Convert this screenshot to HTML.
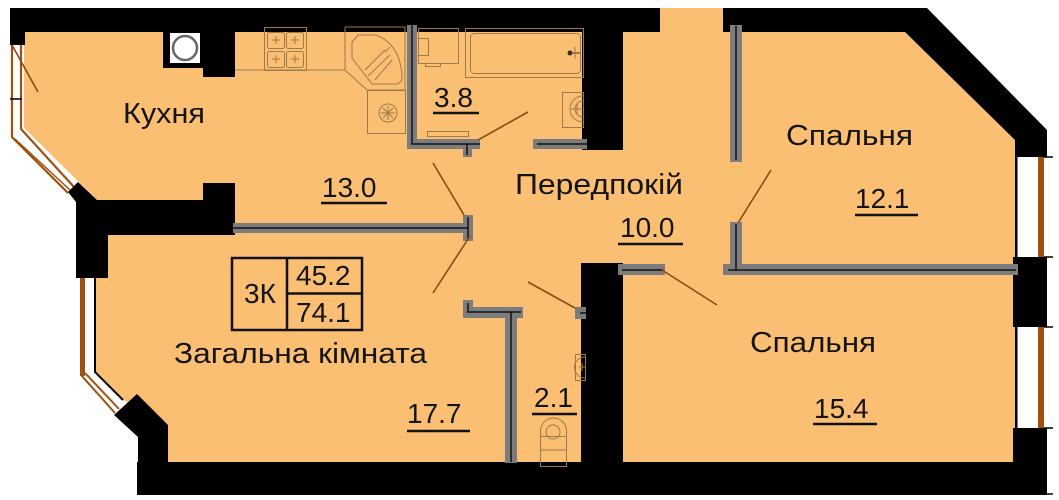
<!DOCTYPE html>
<html><head><meta charset="utf-8"><style>
html,body{margin:0;padding:0;background:#fff;}
svg{display:block;}
text{font-family:"Liberation Sans","Noto Sans CJK SC",sans-serif;fill:#141414;}
</style></head><body>
<svg width="1059" height="500" viewBox="0 0 1059 500" xmlns="http://www.w3.org/2000/svg">
<rect width="1059" height="500" fill="#fff"/>
<!-- floor -->
<polygon fill="#FBBF74" points="24,32 905,32 1015,140 1015,462 168,462 168,425 123,400 95,372 95,235 97,200 24,128"/>
<rect x="660" y="8" width="63" height="26" fill="#FBBF74"/>

<!-- left kitchen window -->
<polygon fill="#fff" points="11,45 24,45 24,128 80,184 70,194 11,137"/>
<g stroke="#A0500F" stroke-width="2.2" fill="none">
<polyline points="12,45 12,137 68,193"/>
<polyline points="21,45 21,129 74,187"/>
<line x1="15" y1="139" x2="70" y2="190" stroke-width="1.5"/>
</g>
<line x1="10" y1="99" x2="22" y2="99" stroke="#000" stroke-width="1.5"/>
<line x1="12" y1="45" x2="38" y2="92" stroke="#8B4A14" stroke-width="1.6"/>

<!-- left living window -->
<polygon fill="#fff" points="80,278 95,278 95,372 123,400 115,415 82,378"/>
<rect x="80" y="278" width="5" height="98" fill="#A0500F"/>
<g stroke="#A0500F" stroke-width="2" fill="none">
<line x1="81" y1="375" x2="115" y2="413"/>
<line x1="85" y1="373" x2="119" y2="409"/>
</g>
<polyline points="95,278 95,372 123,400" fill="none" stroke="#000" stroke-width="2"/>

<!-- right windows -->
<rect x="1015" y="157" width="23" height="100" fill="#fff"/>
<rect x="1015" y="327" width="23" height="101" fill="#fff"/>
<rect x="1015" y="157" width="2.5" height="100" fill="#000"/>
<rect x="1015" y="327" width="2.5" height="101" fill="#000"/>
<rect x="1038" y="157" width="6" height="100" fill="#A0500F"/>
<rect x="1038" y="327" width="6" height="101" fill="#A0500F"/>
<g stroke="#000" stroke-width="1.5">
<line x1="1044" y1="157" x2="1053" y2="157"/><line x1="1044" y1="257" x2="1053" y2="257"/>
<line x1="1044" y1="327" x2="1053" y2="327"/><line x1="1044" y1="428" x2="1053" y2="428"/>
<line x1="1044" y1="494" x2="1053" y2="494"/>
</g>

<!-- black walls -->
<g fill="#000">
<rect x="10" y="8" width="650" height="24"/>
<rect x="10" y="8" width="15" height="37"/>
<polygon points="723,8 927,8 1047,130 1047,157 1015,157 1015,140 905,32 723,32"/>
<rect x="582" y="8" width="41" height="142"/>
<polygon points="163,32 235,32 235,77 203,77 203,68 163,68"/>
<polygon points="68,192 78,182 97,200 203,200 203,183 235,183 235,235 108,235 108,278 76,278 76,202"/>
<rect x="581" y="263" width="42" height="200"/>
<rect x="1013" y="257" width="34" height="70"/>
<rect x="1013" y="428" width="34" height="67"/>
<rect x="137" y="462" width="910" height="33"/>
<polygon points="114,415 137,394 168,425 168,495 138,495 138,437"/>
</g>
<!-- chimney -->
<rect x="170" y="33" width="30" height="30" fill="#fff"/>
<circle cx="185" cy="48" r="12" fill="none" stroke="#666" stroke-width="2.5"/>

<!-- gray partitions -->
<g fill="#7c7c7c">
<rect x="233" y="223" width="237" height="10"/>
<rect x="463" y="215" width="10" height="26"/>
<rect x="407" y="25" width="10" height="124"/>
<rect x="407" y="139" width="73" height="10"/>
<rect x="463" y="146" width="9" height="11"/>
<rect x="533" y="139" width="54" height="10"/>
<rect x="463" y="300" width="10" height="18"/>
<rect x="463" y="307" width="60" height="11"/>
<rect x="505" y="307" width="12" height="156"/>
<rect x="575" y="307" width="11" height="12"/>
<rect x="618" y="264" width="47" height="11"/>
<rect x="723" y="264" width="295" height="11"/>
<rect x="730" y="222" width="12" height="50"/>
<rect x="730" y="25" width="12" height="137"/>
</g>
<g stroke="#111" stroke-width="1.5" fill="none">
<line x1="233" y1="228" x2="468" y2="228"/>
<line x1="468" y1="217" x2="468" y2="239"/>
<polyline points="412,25 412,144 480,144"/>
<line x1="467" y1="144" x2="467" y2="155"/>
<line x1="537" y1="144" x2="587" y2="144"/>
<polyline points="468,303 468,312 521,312"/>
<line x1="511" y1="312" x2="511" y2="462"/>
<line x1="580" y1="313" x2="586" y2="313"/>
<line x1="622" y1="270" x2="663" y2="270"/>
<line x1="728" y1="270" x2="1016" y2="270"/>
<line x1="736" y1="224" x2="736" y2="270"/>
<line x1="736" y1="26" x2="736" y2="160"/>
</g>

<!-- fixtures -->
<g stroke="#9C7A4A" stroke-width="1" fill="none">
<line x1="235" y1="70" x2="345" y2="70"/>
<rect x="264.5" y="27.5" width="42" height="43"/>
<rect x="267.5" y="32.5" width="17" height="16" rx="2"/>
<rect x="286.5" y="32.5" width="17" height="16" rx="2"/>
<rect x="267.5" y="51.5" width="17" height="16" rx="2"/>
<rect x="286.5" y="51.5" width="17" height="16" rx="2"/>
<path d="M272 40h8M276 36v8M291 40h8M295 36v8M272 59h8M276 55v8M291 59h8M295 55v8"/>
<polyline points="345,27 405,27 405,90 367,90 345,70 345,27"/>
<path d="M352 42 L358 35 L376 35 Q402 45 402 80 L398 84 L372 84 L352 58 Z"/>
<path d="M365 70 L385 50 M368 76 L390 55 M375 80 L392 60 M385 52 L390 47"/>
<rect x="367.5" y="90.5" width="38" height="43"/>
<circle cx="388" cy="113" r="9"/>
<path d="M381 113h14M388 106v14M383 108l10 10M393 108l-10 10"/>
<rect x="418.5" y="28.5" width="40" height="35"/>
<rect x="418.5" y="38.5" width="10" height="17"/>
<rect x="425.5" y="63.5" width="15" height="3"/>
<rect x="465.5" y="28.5" width="118" height="49"/>
<rect x="470.5" y="33.5" width="110" height="40" rx="4"/>
<rect x="427.5" y="131.5" width="41" height="5"/>
<rect x="562.5" y="92.5" width="21" height="35"/>
<path d="M583 96 A13 13 0 0 0 583 122"/>
<path d="M583 101 A8 8 0 0 0 583 117"/>
<path d="M571 109h12M577 104v10"/>
<path d="M575 47v12"/>
<rect x="540.5" y="436.5" width="26" height="30"/>
<path d="M540.5 436 L540.5 431 A13 13 0 0 1 566.5 431 L566.5 436"/>
<circle cx="553" cy="432" r="7"/>
<line x1="540" y1="450" x2="566" y2="450"/>
<rect x="575.5" y="354.5" width="10" height="26"/>
<path d="M585 357 A10 10 0 0 0 585 378"/>
<path d="M579 367h6M582 363v8"/>
</g>
<circle cx="570" cy="53" r="2.5" fill="#333"/>
<line x1="572" y1="53" x2="580" y2="53" stroke="#9C7A4A" stroke-width="2"/>

<!-- door swing lines -->
<g stroke="#8B4A14" stroke-width="1.6">
<line x1="478" y1="140" x2="528" y2="112"/>
<line x1="433" y1="163" x2="464" y2="215"/>
<line x1="470" y1="236" x2="433" y2="293"/>
<line x1="528" y1="282" x2="575" y2="308"/>
<line x1="662" y1="270" x2="717" y2="305"/>
<line x1="738" y1="223" x2="771" y2="170"/>
</g>

<!-- 3K box -->
<g stroke="#111" stroke-width="2.5" fill="none">
<rect x="232" y="258" width="130" height="72"/>
<line x1="287" y1="258" x2="287" y2="330"/>
<line x1="287" y1="293.5" x2="362" y2="293.5"/>
</g>

<!-- labels -->
<g font-size="29">
<text x="123" y="123" textLength="82" lengthAdjust="spacingAndGlyphs">Кухня</text>
<text x="515" y="194" textLength="168" lengthAdjust="spacingAndGlyphs">Передпокій</text>
<text x="786" y="145" textLength="127" lengthAdjust="spacingAndGlyphs">Спальня</text>
<text x="750" y="352" textLength="126" lengthAdjust="spacingAndGlyphs">Спальня</text>
<text x="174" y="363" textLength="253" lengthAdjust="spacingAndGlyphs">Загальна кімната</text>
<text x="244" y="303" font-size="28">3К</text>
</g>
<g font-size="28">
<text x="322" y="197">13.0</text>
<text x="434" y="107">3.8</text>
<text x="620" y="237">10.0</text>
<text x="855" y="208">12.1</text>
<text x="814" y="418">15.4</text>
<text x="407" y="423">17.7</text>
<text x="534" y="407">2.1</text>
<text x="296" y="285">45.2</text>
<text x="296" y="322">74.1</text>
</g>
<g stroke="#111" stroke-width="2.5">
<line x1="321" y1="203" x2="387" y2="203"/>
<line x1="433" y1="113" x2="479" y2="113"/>
<line x1="618" y1="244" x2="683" y2="244"/>
<line x1="855" y1="215" x2="918" y2="215"/>
<line x1="813" y1="424" x2="877" y2="424"/>
<line x1="407" y1="431" x2="470" y2="431"/>
<line x1="532" y1="414" x2="577" y2="414"/>
</g>
</svg>
</body></html>
